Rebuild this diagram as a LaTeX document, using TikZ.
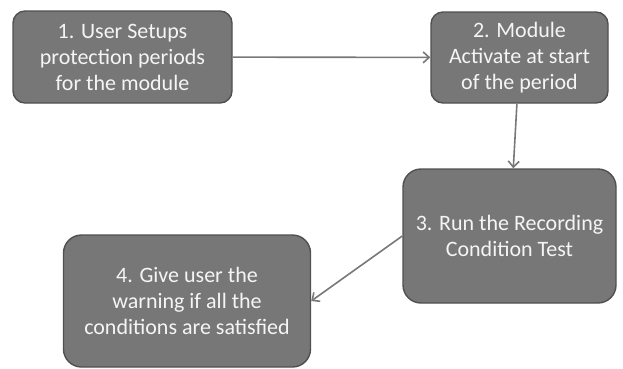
\documentclass[tikz,border=0pt]{standalone}
\usepackage{fontspec}
\setmainfont{Carlito}
\usepackage{tikz}
\usetikzlibrary{positioning,arrows.meta}

\definecolor{boxfill}{RGB}{119,119,119}
\definecolor{boxline}{RGB}{80,80,80}
\definecolor{arrowgray}{RGB}{120,120,120}
\definecolor{boxtext}{RGB}{245,245,245}

\begin{document}
\begin{tikzpicture}[x=1pt, y=-1pt,
    stepbox/.style={draw=boxline, fill=boxfill, line width=1.4pt, rounded corners=12pt,
        text=boxtext, align=center, font=\fontsize{22}{26}\selectfont, inner sep=0pt},
    flow/.style={draw=arrowgray, line width=1.6pt, -{Straight Barb[length=6pt,width=11pt]}}]
    \useasboundingbox (0,0) rectangle (623,368);

    % Draw the four steps
    \node[stepbox, minimum width=219pt, minimum height=92pt] (setup) at (122.5,57)
        {1. User Setups\\protection periods\\for the module};
    \node[stepbox, minimum width=177pt, minimum height=91pt] (activate) at (519.5,57.5)
        {2. Module\\Activate at start\\of the period};
    \node[stepbox, minimum width=213pt, minimum height=134pt, rounded corners=18pt] (test) at (509.5,236)
        {3. Run the Recording\\Condition Test};
    \node[stepbox, minimum width=247pt, minimum height=132pt, rounded corners=18pt] (warn) at (187,301)
        {4. Give user the\\warning if all the\\conditions are satisfied};

    % Draw the flow between steps
    \draw[flow] (setup) -- (activate);
    \draw[flow] (activate) -- (test);
    \draw[flow] (test.west) -- (warn.east);
\end{tikzpicture}
\end{document}
